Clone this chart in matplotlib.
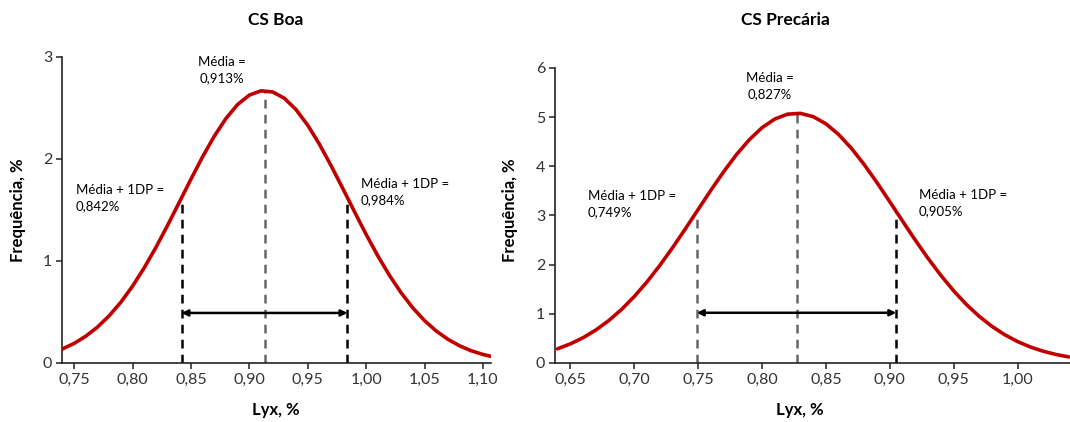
import matplotlib.pyplot as plt
from matplotlib.ticker import FixedLocator, FixedFormatter

plt.rcParams['font.family'] = ['Lato', 'DejaVu Sans']

# CS Boa - curva
boa_x = [0.74, 0.75, 0.76, 0.77, 0.78, 0.79, 0.80, 0.81, 0.82, 0.83, 0.84, 0.85, 0.86,
         0.87, 0.88, 0.89, 0.90, 0.91, 0.92, 0.93, 0.94, 0.95, 0.96, 0.97, 0.98, 0.99,
         1.00, 1.01, 1.02, 1.03, 1.04, 1.05, 1.06, 1.07, 1.08, 1.09, 1.10, 1.107]
boa_y = [0.137, 0.191, 0.262, 0.351, 0.462, 0.595, 0.752, 0.932, 1.132, 1.348, 1.574,
         1.801, 2.021, 2.223, 2.397, 2.534, 2.626, 2.668, 2.657, 2.595, 2.484, 2.331,
         2.145, 1.934, 1.711, 1.483, 1.260, 1.050, 0.858, 0.687, 0.539, 0.415, 0.313,
         0.232, 0.168, 0.119, 0.083, 0.064]
boa_marcas_x = [0.842, 0.913, 0.984]
boa_marcas_y = [1.60, 2.67, 1.60]
boa_seta_y = 0.49
boa_xticks = [0.75, 0.80, 0.85, 0.90, 0.95, 1.00, 1.05, 1.10]
boa_xlabels = ["0,75", "0,80", "0,85", "0,90", "0,95", "1,00", "1,05", "1,10"]
boa_yticks = [0, 1, 2, 3]

# CS Precaria
prec_x = [0.64, 0.65, 0.66, 0.67, 0.68, 0.69, 0.70, 0.71, 0.72, 0.73, 0.74, 0.75, 0.76,
          0.77, 0.78, 0.79, 0.80, 0.81, 0.82, 0.83, 0.84, 0.85, 0.86, 0.87, 0.88, 0.89,
          0.90, 0.91, 0.92, 0.93, 0.94, 0.95, 0.96, 0.97, 0.98, 0.99, 1.00, 1.01, 1.02,
          1.03, 1.04]
prec_y = [0.287, 0.387, 0.513, 0.670, 0.860, 1.086, 1.350, 1.649, 1.983, 2.344, 2.727,
          3.121, 3.513, 3.890, 4.237, 4.539, 4.785, 4.961, 5.060, 5.076, 5.010, 4.864,
          4.645, 4.364, 4.033, 3.666, 3.278, 2.884, 2.495, 2.124, 1.779, 1.465, 1.187,
          0.946, 0.742, 0.572, 0.434, 0.324, 0.238, 0.172, 0.122]
prec_marcas_x = [0.749, 0.827, 0.905]
prec_marcas_y = [3.05, 5.07, 3.07]
prec_seta_y = 1.02
prec_xticks = [0.65, 0.70, 0.75, 0.80, 0.85, 0.90, 0.95, 1.00]
prec_xlabels = ["0,65", "0,70", "0,75", "0,80", "0,85", "0,90", "0,95", "1,00"]
prec_yticks = [0, 1, 2, 3, 4, 5, 6]

vermelho = "#c00000"
cinza = "#666666"

fig = plt.figure(figsize=(10.7, 4.22), dpi=100)
ax1 = fig.add_axes([0.058, 0.140, 0.401, 0.725])
ax2 = fig.add_axes([0.5187, 0.140, 0.4813, 0.699])


def montar_eixo(ax, xs, ys, mx, my, seta_y, xt, xl, yt, xlim, cores):
    ax.plot(xs, ys, color=vermelho, lw=2.6, solid_capstyle="round", zorder=3)
    for x, y, c in zip(mx, my, cores):
        ax.plot([x, x], [0, y], color=c, lw=1.8, ls=(0, (3.5, 2.5)), zorder=2)
    ax.annotate("", xy=(mx[0], seta_y), xytext=(mx[2], seta_y),
                arrowprops=dict(arrowstyle="<|-|>", color="black", lw=1.8,
                                mutation_scale=9, shrinkA=0, shrinkB=0))
    ax.set_xlim(*xlim)
    ax.set_ylim(0, yt[-1])
    ax.xaxis.set_major_locator(FixedLocator(xt))
    ax.xaxis.set_major_formatter(FixedFormatter(xl))
    ax.yaxis.set_major_locator(FixedLocator(yt))
    ax.yaxis.set_major_formatter(FixedFormatter([str(v) for v in yt]))
    for s in ["top", "right"]:
        ax.spines[s].set_visible(False)
    for s in ["left", "bottom"]:
        ax.spines[s].set_linewidth(1.2)
        ax.spines[s].set_color("#222222")
    ax.tick_params(axis="both", labelsize=11.5, labelcolor="#333333", color="#222222",
                   length=4, width=1.1, pad=3)


montar_eixo(ax1, boa_x, boa_y, boa_marcas_x, boa_marcas_y, boa_seta_y,
            boa_xticks, boa_xlabels, boa_yticks, (0.7397, 1.107),
            ["black", cinza, "black"])
montar_eixo(ax2, prec_x, prec_y, prec_marcas_x, prec_marcas_y, prec_seta_y,
            prec_xticks, prec_xlabels, prec_yticks, (0.638, 1.041),
            [cinza, cinza, "black"])

# titulos e rotulos
fig.text(276 / 1070, 1 - 20 / 422, "CS Boa", ha="center", va="center",
         fontsize=12.5, fontweight="bold")
fig.text(785 / 1070, 1 - 20 / 422, "CS Precária", ha="center", va="center",
         fontsize=12.5, fontweight="bold")
fig.text(276 / 1070, 1 - 410 / 422, "Lyx, %", ha="center", va="center",
         fontsize=12, fontweight="bold")
fig.text(800 / 1070, 1 - 410 / 422, "Lyx, %", ha="center", va="center",
         fontsize=12, fontweight="bold")
fig.text(18 / 1070, 1 - 210 / 422, "Frequência, %", ha="center", va="center",
         rotation=90, fontsize=12, fontweight="bold")
fig.text(510 / 1070, 1 - 210 / 422, "Frequência, %", ha="center", va="center",
         rotation=90, fontsize=12, fontweight="bold")

# anotacoes
notas = [
    (222, 70, "Média =\n0,913%", "center"),
    (76, 198, "Média + 1DP =\n0,842%", "left"),
    (361, 192, "Média + 1DP =\n0,984%", "left"),
    (770, 86, "Média =\n0,827%", "center"),
    (588, 204, "Média + 1DP =\n0,749%", "left"),
    (919, 203, "Média + 1DP =\n0,905%", "left"),
]
for px, py, txt, al in notas:
    fig.text(px / 1070, 1 - py / 422, txt, ha=al, va="center", fontsize=9.5,
             linespacing=1.45, multialignment="center" if al == "center" else "left")

fig.savefig("out.png", dpi=100)
